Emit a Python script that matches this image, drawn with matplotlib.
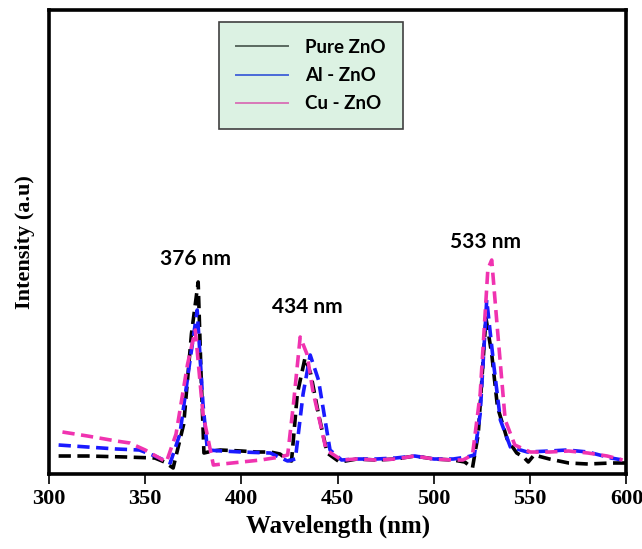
import matplotlib.pyplot as plt
from matplotlib.lines import Line2D

# wavelength (nm) / intensity (a.u)
pure_x = [305, 320, 340, 355, 360, 364.5, 370, 374, 377.5, 379, 380.5, 385, 389, 400, 408, 415, 420, 424, 426,
          429, 433, 436, 440, 444.5, 451, 460, 470, 480, 490, 500, 510, 516, 520, 523, 527, 530, 533, 538,
          543, 546.5, 549, 552, 560, 570, 580, 592, 600]
pure_y = [18, 18, 17, 16, 12, 6, 50, 140, 192, 100, 21, 23, 24, 23, 22, 22, 20, 14, 13,
          80, 116, 100, 60, 21, 12, 15, 14, 15, 18, 15, 14, 12, 6, 40, 156, 120, 67, 35,
          21, 17, 12, 19, 15, 11, 10, 11, 11]

al_x = [305, 320, 335, 347, 355, 363, 368, 373, 377, 380, 382.3, 390, 400, 415, 424, 428, 432, 435.7, 440,
        446, 452, 460, 470, 480, 490, 500, 510, 517, 521, 524, 527.4, 531, 534.5, 539.7, 548.5, 560, 569,
        580, 592, 598]
al_y = [29, 27, 25, 24, 18, 11, 40, 110, 164, 70, 24, 23, 22, 21, 13, 15, 80, 119, 94,
        24, 14, 15, 15, 16, 18, 15, 15, 17, 19, 60, 174, 110, 54, 27, 22, 23, 24,
        22, 16, 14]

cu_x = [307, 320, 335, 342, 350, 361, 366, 372, 376, 380, 385.4, 395, 410, 420, 424, 427, 430.5, 434, 437,
        444, 452, 460, 470, 480, 490, 500, 510, 515, 520, 524, 528, 530, 533, 537, 542, 550, 560, 570,
        580, 590, 598]
cu_y = [42, 38, 33, 31, 24, 12, 40, 110, 144, 60, 9, 11, 14, 17, 19, 70, 137, 120, 84,
        24, 14, 15, 14, 15, 18, 15, 14, 14, 19, 80, 205, 214, 144, 54, 29, 22, 22, 23,
        21, 18, 14]

peak_labels = ["376 nm", "434 nm", "533 nm"]
peak_pos = [(376, 215), (434, 167), (527, 232)]

series = [
    ("Pure ZnO", pure_x, pure_y, "black", "#5a6a60"),
    ("Al - ZnO", al_x, al_y, "#1a1aff", "#4a6ad8"),
    ("Cu - ZnO", cu_x, cu_y, "#f033b0", "#d878b8"),
]

fig = plt.figure(figsize=(6.42, 5.49), dpi=100)
ax = fig.add_axes([0.0763, 0.1366, 0.8995, 0.8452])

handles = []
for name, xs, ys, col, legcol in series:
    ax.plot(xs, ys, color=col, lw=2.6, ls=(0, (3.4, 1.8)))
    handles.append(Line2D([], [], color=legcol, lw=1.4, label=name))

for txt, (px, py) in zip(peak_labels, peak_pos):
    ax.text(px, py, txt, ha="center", va="center", fontsize=15,
            fontweight="bold", family="Lato")

ax.set_xlim(300, 600)
ax.set_ylim(0, 464)
ax.set_xticks([300, 350, 400, 450, 500, 550, 600])
ax.set_yticks([])
ax.tick_params(axis="x", direction="out", length=7, width=1.2, pad=4)
for lab in ax.get_xticklabels():
    lab.set_fontfamily("Liberation Serif")
    lab.set_fontweight("bold")
    lab.set_fontsize(16)
for sp in ax.spines.values():
    sp.set_linewidth(2.6)

ax.set_xlabel("Wavelength (nm)", family="Liberation Serif", fontweight="bold",
              fontsize=18, labelpad=4)
ax.set_ylabel("Intensity (a.u)", family="Liberation Serif", fontweight="bold",
              fontsize=16, labelpad=10)

leg = ax.legend(handles=handles, loc="upper left", bbox_to_anchor=(0.294, 0.974),
                prop={"family": "Lato", "weight": "bold", "size": 13.5},
                frameon=True, fancybox=False, handlelength=2.8, handletextpad=0.9,
                labelspacing=0.6, borderpad=0.9, borderaxespad=0)
leg.get_frame().set_facecolor("#dcf2e3")
leg.get_frame().set_edgecolor("#404040")
leg.get_frame().set_linewidth(1.2)
leg.get_frame().set_alpha(1)

fig.savefig("out.png", dpi=100)
